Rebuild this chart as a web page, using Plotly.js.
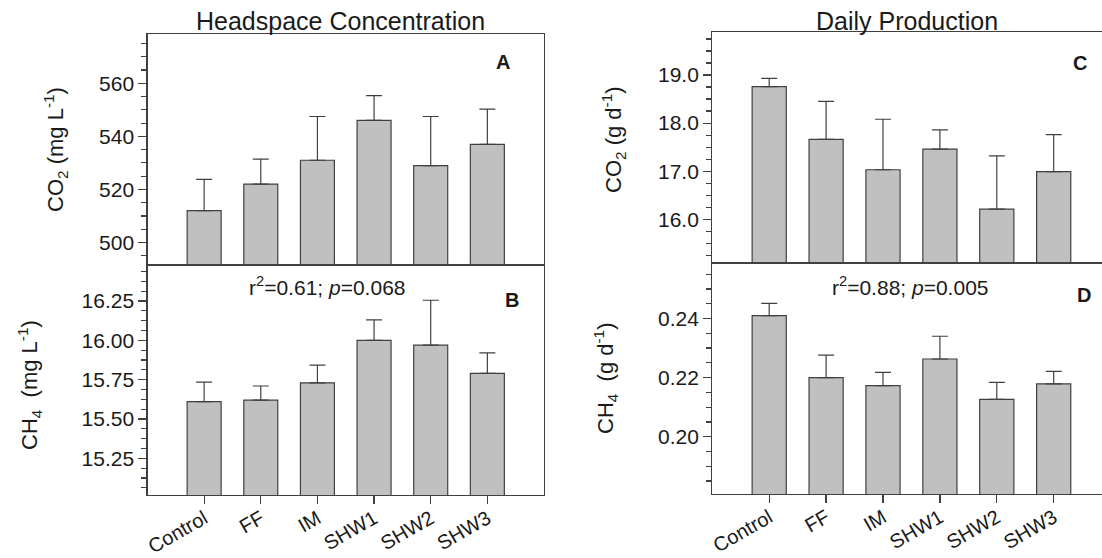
<!DOCTYPE html>
<html>
<head>
<meta charset="utf-8">
<script src="https://cdn.plot.ly/plotly-3.0.1.min.js"></script>
<style>html,body{margin:0;padding:0;background:#fff;}#chart{width:1102px;height:558px;}</style>
</head>
<body>
<div id="chart"></div>
<script>
// ---- data ----
const categories = ["Control", "FF", "IM", "SHW1", "SHW2", "SHW3"];

// A: headspace CO2 (mg L-1)
const headCO2 = [512, 522, 531, 546, 529, 537];
const headCO2Err = [11.8, 9.4, 16.5, 9.4, 18.5, 13.3];

// B: headspace CH4 (mg L-1)
const headCH4 = [15.61, 15.62, 15.73, 16.00, 15.97, 15.79];
const headCH4Err = [0.125, 0.09, 0.113, 0.13, 0.285, 0.13];

// C: daily CO2 production (g d-1)
const dailyCO2 = [18.76, 17.66, 17.03, 17.46, 16.21, 16.99];
const dailyCO2Err = [0.17, 0.79, 1.05, 0.40, 1.11, 0.77];

// D: daily CH4 production (g d-1)
const dailyCH4 = [0.241, 0.220, 0.2173, 0.2263, 0.2126, 0.2179];
const dailyCH4Err = [0.0041, 0.0076, 0.0045, 0.0077, 0.0058, 0.0042];

const panelLetters = ["A", "B", "C", "D"];
const statB = "r<sup>2</sup>=0.61; <i>p</i>=0.068";
const statD = "r<sup>2</sup>=0.88; <i>p</i>=0.005";

// ---- styling ----
const FONT = "Arial, 'Liberation Sans', Helvetica, sans-serif";
const LINE = "#404040";
const TXT = "#1a1a1a";
const FILL = "#c0c0c0";

function barTrace(y, err, xa, ya) {
  return {
    type: "bar", x: categories, y: y, xaxis: xa, yaxis: ya,
    width: 0.6,
    marker: {color: FILL, line: {color: LINE, width: 1.2}},
    error_y: {type: "data", symmetric: false, array: err, arrayminus: err.map(() => 0),
              color: LINE, thickness: 1.2, width: 8},
    hoverinfo: "skip", showlegend: false
  };
}

const traces = [
  barTrace(headCO2, headCO2Err, "x", "y"),
  barTrace(headCH4, headCH4Err, "x2", "y2"),
  barTrace(dailyCO2, dailyCO2Err, "x3", "y3"),
  barTrace(dailyCH4, dailyCH4Err, "x4", "y4")
];

const W = 1102, H = 558;
const px = v => v / W;
const py = v => 1 - v / H;

const leftDom = [px(147.5), px(544)];
const rightDom = [px(712.3), 1];
const leftRange = [-1, 6];
const rightRange = [-1, -1 + (1102 - 712.3) / 56.9];

function xAxis(dom, range, mirror, showLabels, anchor) {
  return {
    domain: dom, range: range, type: "category", anchor: anchor,
    showline: true, linecolor: LINE, linewidth: 1.2, mirror: mirror,
    showgrid: false, zeroline: false,
    ticks: showLabels ? "outside" : "", ticklen: 8, tickcolor: LINE, tickwidth: 1.2,
    showticklabels: showLabels, tickangle: -30, ticklabelstandoff: -5,
    tickfont: {family: FONT, size: 20, color: TXT}, fixedrange: true
  };
}
function yAxis(dom, range, dtick, minor, fmt, mirror, anchor) {
  return {
    domain: dom, range: range, anchor: anchor,
    showline: true, linecolor: LINE, linewidth: 1.2, mirror: mirror,
    showgrid: false, zeroline: false,
    ticks: "outside", ticklen: 8, tickcolor: LINE, tickwidth: 1.2,
    dtick: dtick, tick0: 0, tickformat: fmt,
    minor: {dtick: minor, tick0: 0, ticks: "outside", ticklen: 5, tickcolor: LINE, tickwidth: 1.2, showgrid: false},
    tickfont: {family: FONT, size: 21, color: TXT}, fixedrange: true
  };
}

function ann(text, x, y, opts) {
  return Object.assign({text: text, x: px(x), y: py(y), xref: "paper", yref: "paper",
    showarrow: false, xanchor: "center", yanchor: "middle",
    font: {family: FONT, size: 21, color: TXT}}, opts || {});
}

const TITLE_FONT = {family: FONT, size: 25, color: TXT};
const YT_FONT = {family: FONT, size: 22, color: TXT};
const LETTER_FONT = {family: FONT, size: 20, color: TXT};

const layout = {
  width: W, height: H,
  margin: {l: 0, r: 0, t: 0, b: 0},
  paper_bgcolor: "#fff", plot_bgcolor: "#fff",
  showlegend: false, bargap: 0.4,
  xaxis: xAxis(leftDom, leftRange, true, false, "y"),
  yaxis: yAxis([py(265), py(34)], [491.5, 578.6], 20, 5, "d", true, "x"),
  xaxis2: xAxis(leftDom, leftRange, true, true, "y2"),
  yaxis2: yAxis([py(495), py(265)], [15.017, 16.479], 0.25, 0.0625, ".2f", true, "x2"),
  xaxis3: xAxis(rightDom, rightRange, true, false, "y3"),
  yaxis3: yAxis([py(262.7), py(32.3)], [15.098, 19.888], 1, 0.25, ".1f", false, "x3"),
  xaxis4: xAxis(rightDom, rightRange, true, true, "y4"),
  yaxis4: yAxis([py(494), py(262.7)], [0.1806, 0.2589], 0.02, 0.005, ".2f", false, "x4"),
  annotations: [
    ann("Headspace Concentration", 340, 21, {font: TITLE_FONT}),
    ann("Daily Production", 907, 21, {font: TITLE_FONT}),
    ann("CO<sub>2</sub> (mg L<sup>-1</sup>)", 55, 149, {textangle: -90, font: YT_FONT}),
    ann("CH<sub>4</sub>  (mg L<sup>-1</sup>)", 29, 385, {textangle: -90, font: YT_FONT}),
    ann("CO<sub>2</sub> (g d<sup>-1</sup>)", 614, 140, {textangle: -90, font: YT_FONT}),
    ann("CH<sub>4</sub>  (g d<sup>-1</sup>)", 605, 378, {textangle: -90, font: YT_FONT}),
    ann("<b>" + panelLetters[0] + "</b>", 503, 62, {font: LETTER_FONT}),
    ann("<b>" + panelLetters[1] + "</b>", 512, 300, {font: LETTER_FONT}),
    ann("<b>" + panelLetters[2] + "</b>", 1080, 63, {font: LETTER_FONT}),
    ann("<b>" + panelLetters[3] + "</b>", 1084, 295, {font: LETTER_FONT}),
    ann(statB, 327, 286),
    ann(statD, 910, 286)
  ]
};

Plotly.newPlot("chart", traces, layout, {staticPlot: true, displayModeBar: false});
</script>
</body>
</html>
